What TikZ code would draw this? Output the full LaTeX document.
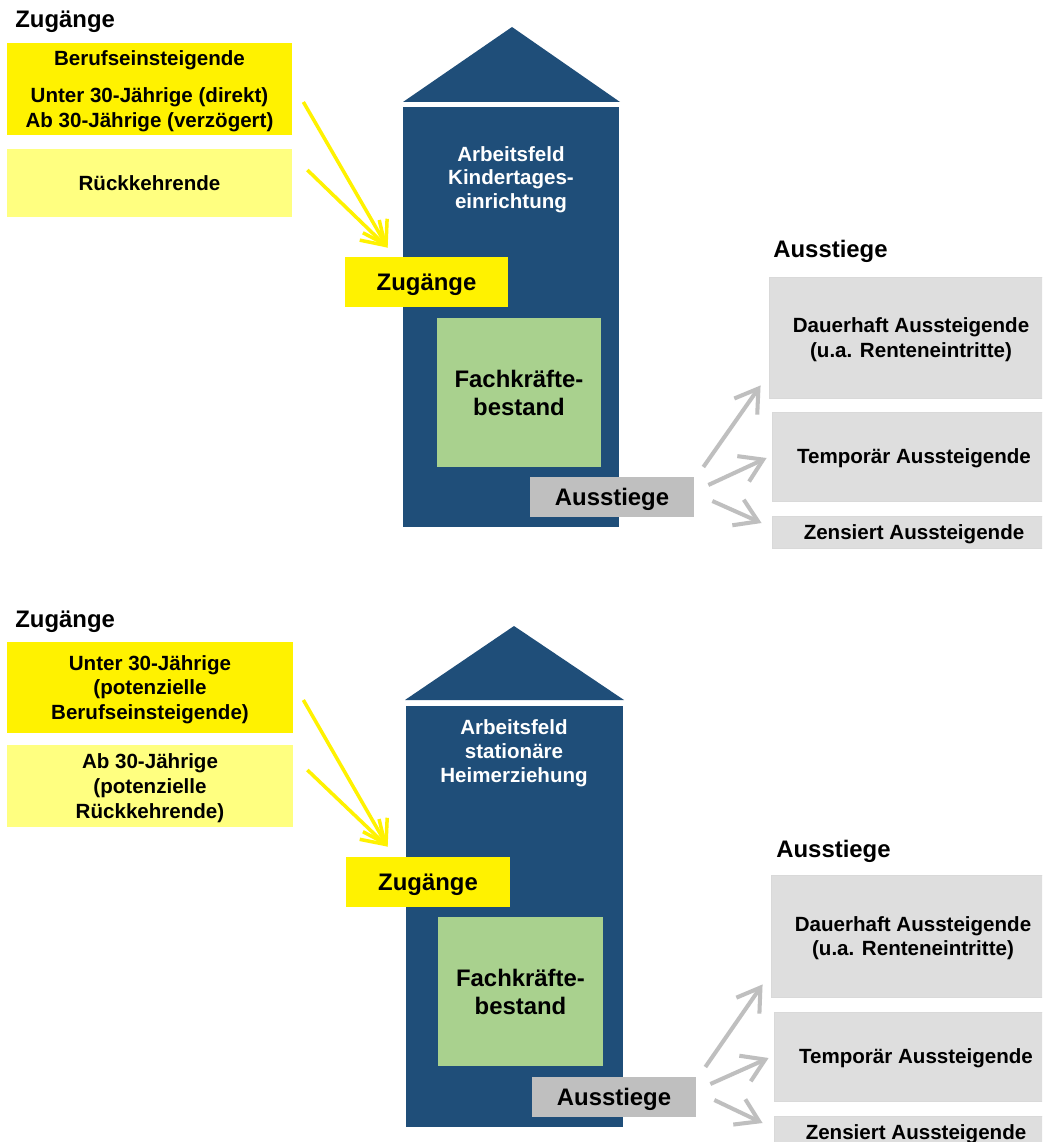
\documentclass[tikz,border=0pt]{standalone}
\usepackage{fontspec}
\setmainfont{Liberation Sans}
\usetikzlibrary{arrows.meta}

\definecolor{hausblau}{RGB}{31,78,121}
\definecolor{gelbhell}{RGB}{255,255,128}
\definecolor{gruen}{RGB}{169,209,142}
\definecolor{grauhell}{RGB}{222,222,222}
\definecolor{graumittel}{RGB}{191,191,191}

\newcommand{\kleinschrift}{\fontsize{11.7}{14.1}\selectfont\bfseries}
\newcommand{\hausschrift}{\fontsize{11.7}{13.6}\selectfont\bfseries}
\newcommand{\grossschrift}{\fontsize{13.6}{15.9}\selectfont\bfseries}

\begin{document}
\begin{tikzpicture}[x=0.2mm,y=-0.2mm,
    box/.style={rectangle,inner sep=0pt,align=center,text depth=0pt,font=\kleinschrift},
    titel/.style={anchor=base west,inner sep=0pt,font=\grossschrift},
    hausname/.style={box,text=white,font=\hausschrift},
    zugbox/.style={box,fill=yellow},
    rueckbox/.style={box,fill=gelbhell},
    ausbox/.style={box,fill=grauhell,draw=gray!30,line width=0.5pt},
    gelbpfeil/.style={draw=yellow,line width=2pt,-{Straight Barb[length=4.4mm,width=5.6mm]}},
    graupfeil/.style={draw=graumittel,line width=2.3pt,-{Straight Barb[length=4.4mm,width=5.6mm]}}]

    \clip (0,0) rectangle (1042,1142);
    \fill[white] (0,0) rectangle (1042,1142);

    % Kindertageseinrichtung
    \node[titel] (zugtitel1) at (15,28) {Zugänge};
    \node[zugbox,minimum width=57mm,minimum height=18.4mm] (berufs1) at (149.5,89)
        {Berufseinsteigende\\[7pt]Unter 30-Jährige (direkt)\\Ab 30-Jährige (verzögert)};
    \node[rueckbox,minimum width=57mm,minimum height=13.6mm] (rueck1) at (149.5,183) {Rückkehrende};

    \fill[hausblau] (403,102) -- (512,27) -- (620,102) -- cycle;
    \fill[hausblau] (403,107) rectangle (619,527);
    \node[hausname] (feld1) at (511,177.5) {Arbeitsfeld\\Kindertages-\\einrichtung};

    \node[zugbox,minimum width=32.6mm,minimum height=10mm,font=\grossschrift] (zug1) at (426.5,282) {Zugänge};
    \node[box,fill=gruen,minimum width=32.8mm,minimum height=29.8mm,font=\grossschrift] (bestand1) at (519,392.5) {Fachkräfte-\\bestand};
    \node[box,fill=graumittel,minimum width=32.8mm,minimum height=8mm,font=\grossschrift] (aus1) at (612,497) {Ausstiege};

    \node[titel] (austitel1) at (773,258) {Ausstiege};
    \node[ausbox,minimum width=56.8mm,minimum height=24.2mm] (dauer1) at (911,337.5) {Dauerhaft Aussteigende\\(u.a. Renteneintritte)};
    \node[ausbox,minimum width=56.8mm,minimum height=17.8mm] (temp1) at (914,456.5) {Temporär Aussteigende};
    \node[ausbox,minimum width=56.8mm,minimum height=6.4mm] (zens1) at (914,532) {Zensiert Aussteigende};

    \draw[gelbpfeil] ([xshift=2.2mm,yshift=-2.6mm]berufs1.east) -- ([xshift=8.6mm,yshift=1.8mm]zug1.north west);
    \draw[gelbpfeil] ([xshift=3mm,yshift=2.6mm]rueck1.east) -- ([xshift=8.6mm,yshift=1.8mm]zug1.north west);

    \draw[graupfeil] ([xshift=1.8mm,yshift=6mm]aus1.east) -- ([xshift=-1.6mm,yshift=2.6mm]dauer1.south west);
    \draw[graupfeil] ([xshift=2.8mm,yshift=2.4mm]aus1.east) -- ([xshift=-1mm,yshift=-0.3mm]temp1.west);
    \draw[graupfeil] ([xshift=3.6mm,yshift=-0.8mm]aus1.east) -- ([xshift=-2mm,yshift=1.8mm]zens1.west);

    % stationaere Heimerziehung
    \node[titel] (zugtitel2) at (15,627) {Zugänge};
    \node[zugbox,minimum width=57.2mm,minimum height=18.2mm] (berufs2) at (150,687.5)
        {Unter 30-Jährige\\(potenzielle\\Berufseinsteigende)};
    \node[rueckbox,minimum width=57.2mm,minimum height=16.4mm] (rueck2) at (150,786)
        {Ab 30-Jährige\\(potenzielle\\Rückkehrende)};

    \fill[hausblau] (405,700) -- (514,626) -- (624,700) -- cycle;
    \fill[hausblau] (406,706) rectangle (623,1127);
    \node[hausname] (feld2) at (514,751) {Arbeitsfeld\\stationäre\\Heimerziehung};

    \node[zugbox,minimum width=32.8mm,minimum height=10mm,font=\grossschrift] (zug2) at (428,882) {Zugänge};
    \node[box,fill=gruen,minimum width=33mm,minimum height=29.8mm,font=\grossschrift] (bestand2) at (520.5,991.5) {Fachkräfte-\\bestand};
    \node[box,fill=graumittel,minimum width=32.8mm,minimum height=8mm,font=\grossschrift] (aus2) at (614,1097) {Ausstiege};

    \node[titel] (austitel2) at (776,857) {Ausstiege};
    \node[ausbox,minimum width=56.8mm,minimum height=24.4mm] (dauer2) at (913,936) {Dauerhaft Aussteigende\\(u.a. Renteneintritte)};
    \node[ausbox,minimum width=56.8mm,minimum height=17.8mm] (temp2) at (916,1056.5) {Temporär Aussteigende};
    \node[ausbox,minimum width=56.8mm,minimum height=6.4mm] (zens2) at (916,1132) {Zensiert Aussteigende};

    \draw[gelbpfeil] ([xshift=2mm,yshift=-2.5mm]berufs2.east) -- ([xshift=8.4mm,yshift=2mm]zug2.north west);
    \draw[gelbpfeil] ([xshift=2.8mm,yshift=3.2mm]rueck2.east) -- ([xshift=8.4mm,yshift=2mm]zug2.north west);

    \draw[graupfeil] ([xshift=1.8mm,yshift=6mm]aus2.east) -- ([xshift=-1.6mm,yshift=2.6mm]dauer2.south west);
    \draw[graupfeil] ([xshift=2.8mm,yshift=2.6mm]aus2.east) -- ([xshift=-1mm,yshift=-0.3mm]temp2.west);
    \draw[graupfeil] ([xshift=3.6mm,yshift=-0.6mm]aus2.east) -- ([xshift=-2.2mm,yshift=1.8mm]zens2.west);
\end{tikzpicture}
\end{document}
